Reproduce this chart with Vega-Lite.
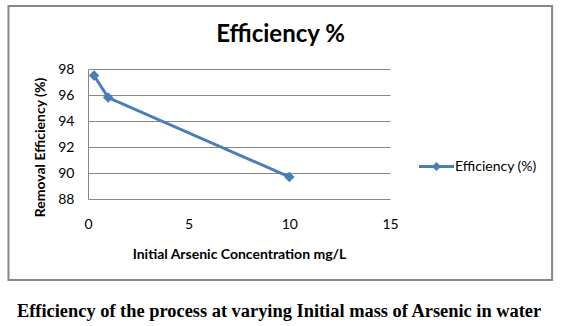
{
  "$schema": "https://vega.github.io/schema/vega-lite/v6.json",
  "width": 302,
  "height": 130,
  "autosize": {"type": "none"},
  "padding": {"left": 88, "top": 69, "right": 174, "bottom": 127},
  "background": "white",
  "config": {
    "view": {"stroke": null},
    "font": "Lato",
    "axis": {
      "labelFont": "Lato",
      "labelFontSize": 14,
      "labelColor": "#000000",
      "labelFlush": false,
      "labelOverlap": false,
      "ticks": false,
      "titleFont": "Lato",
      "titleFontSize": 14,
      "titleFontWeight": "bold",
      "titleColor": "#000000"
    },
    "axisX": {"grid": false, "domain": false, "labelPadding": 18, "titleBaseline": "alphabetic", "titleY": 59},
    "axisY": {
      "grid": true,
      "gridColor": "#868686",
      "gridWidth": 1,
      "domain": true,
      "domainColor": "#868686",
      "labelPadding": 14,
      "titleAngle": -90,
      "titleAlign": "center",
      "titleBaseline": "alphabetic",
      "titleX": -44,
      "titleY": 78
    }
  },
  "layer": [
    {
      "data": {"values": [
        {"conc": 0.3, "eff": 97.5},
        {"conc": 1, "eff": 95.8},
        {"conc": 10, "eff": 89.7}
      ]},
      "mark": {
        "type": "line",
        "strokeWidth": 3,
        "point": {"shape": "diamond", "size": 110, "filled": true}
      },
      "encoding": {
        "x": {
          "field": "conc",
          "type": "quantitative",
          "scale": {"domain": [0, 15], "nice": false, "zero": false},
          "axis": {"title": "Initial Arsenic Concentration mg/L", "values": [0, 5, 10, 15]}
        },
        "y": {
          "field": "eff",
          "type": "quantitative",
          "scale": {"domain": [88, 98], "nice": false, "zero": false},
          "axis": {"title": "Removal Efficiency (%)", "values": [88, 90, 92, 94, 96, 98]}
        },
        "color": {
          "datum": "Efficiency (%)",
          "type": "nominal",
          "scale": {"range": ["#4A7EBB"]},
          "legend": {
            "title": null,
            "orient": "none",
            "legendX": 331,
            "legendY": 80,
            "symbolType": "M-1,-0.086L1,-0.086L1,0.086L-1,0.086Z M0,-0.26L0.26,0L0,0.26L-0.26,0Z",
            "symbolSize": 1225,
            "symbolStrokeWidth": 0,
            "labelFont": "Lato",
            "labelFontSize": 14,
            "labelColor": "#000000",
            "labelOffset": 1,
            "encode": {
              "symbols": {"update": {"fill": {"value": "#4A7EBB"}, "stroke": {"value": "#4A7EBB"}, "strokeWidth": {"value": 0}}}
            }
          }
        }
      }
    },
    {
      "data": {"values": [{}]},
      "mark": {"type": "rect", "fill": null, "stroke": "#878787", "strokeWidth": 2},
      "encoding": {
        "x": {"datum": -3.95, "type": "quantitative", "axis": {"title": "Initial Arsenic Concentration mg/L", "values": [0, 5, 10, 15]}},
        "x2": {"datum": 23.05},
        "y": {"datum": 102.85, "type": "quantitative", "axis": {"title": "Removal Efficiency (%)", "values": [88, 90, 92, 94, 96, 98]}},
        "y2": {"datum": 81.77}
      }
    },
    {
      "data": {"values": [{}]},
      "mark": {
        "type": "text",
        "text": "Efficiency %",
        "font": "Lato",
        "fontSize": 24,
        "fontWeight": "bold",
        "color": "#000000",
        "align": "center",
        "baseline": "alphabetic"
      },
      "encoding": {
        "x": {"datum": 9.56, "type": "quantitative", "axis": {"title": "Initial Arsenic Concentration mg/L", "values": [0, 5, 10, 15]}},
        "y": {"datum": 100.08, "type": "quantitative", "axis": {"title": "Removal Efficiency (%)", "values": [88, 90, 92, 94, 96, 98]}}
      }
    },
    {
      "data": {"values": [{}]},
      "mark": {
        "type": "text",
        "text": "Efficiency of the process at varying Initial mass of Arsenic in water",
        "font": "Liberation Serif",
        "fontSize": 18.4,
        "fontWeight": "bold",
        "color": "#000000",
        "align": "center",
        "baseline": "alphabetic"
      },
      "encoding": {
        "x": {"datum": 9.49, "type": "quantitative", "axis": {"title": "Initial Arsenic Concentration mg/L", "values": [0, 5, 10, 15]}},
        "y": {"datum": 78.9, "type": "quantitative", "axis": {"title": "Removal Efficiency (%)", "values": [88, 90, 92, 94, 96, 98]}}
      }
    }
  ]
}
